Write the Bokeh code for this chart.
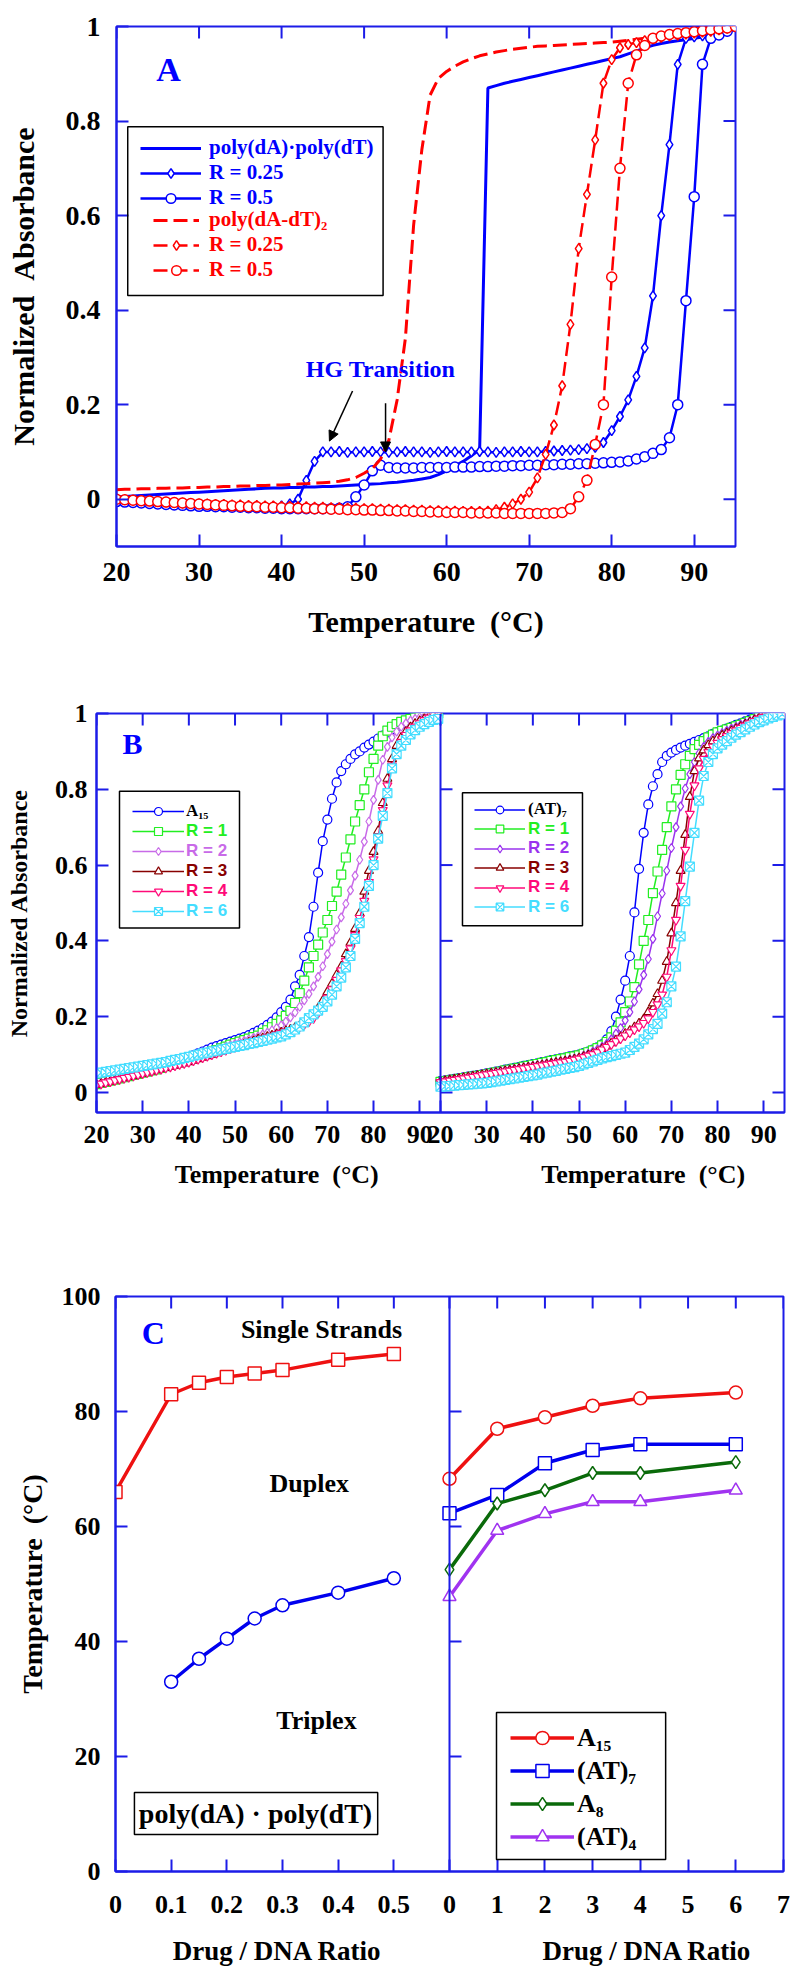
import math
from bokeh.plotting import figure
from bokeh.models import (Range1d, FixedTicker, CustomJSTickFormatter, Legend,
                          LegendItem, BoxAnnotation, Label, Arrow, NormalHead, Span)
from bokeh.layouts import column
from bokeh.embed import file_html
from bokeh.resources import INLINE

# ============================ DATA ============================
# ---- Panel A : temperature (C) and normalized absorbance ----
A_T = [20, 21, 22, 23, 24, 25, 26, 27, 28, 29, 30, 31, 32, 33, 34, 35, 36, 37, 38, 39,
       40, 41, 42, 43, 44, 45, 46, 47, 48, 49, 50, 51, 52, 53, 54, 55, 56, 57, 58, 59,
       60, 61, 62, 63, 64, 65, 66, 67, 68, 69, 70, 71, 72, 73, 74, 75, 76, 77, 78, 79,
       80, 81, 82, 83, 84, 85, 86, 87, 88, 89, 90, 91, 92, 93, 94, 95]
A_POLY_DA_DT = [0.005, 0.006, 0.007, 0.008, 0.009, 0.010, 0.011, 0.012, 0.013, 0.014,
                0.015, 0.016, 0.017, 0.018, 0.019, 0.020, 0.021, 0.022, 0.023, 0.024,
                0.024, 0.025, 0.025, 0.026, 0.026, 0.027, 0.027, 0.028, 0.029, 0.030,
                0.031, 0.032, 0.033, 0.035, 0.036, 0.038, 0.040, 0.043, 0.046, 0.052,
                0.060, 0.070, 0.080, 0.092, 0.105, 0.870, 0.875, 0.880, 0.884, 0.888,
                0.892, 0.896, 0.900, 0.904, 0.908, 0.912, 0.916, 0.920, 0.924, 0.928,
                0.932, 0.936, 0.942, 0.948, 0.955, 0.960, 0.964, 0.967, 0.970, 0.972,
                0.975, 0.978, 0.981, 0.985, 0.990, 1.000]
A_POLY_DA_DT_R025 = [0.000, -0.002, -0.004, -0.005, -0.006, -0.007, -0.008, -0.009, -0.010, -0.011,
                     -0.012, -0.012, -0.013, -0.013, -0.014, -0.014, -0.015, -0.015, -0.015, -0.015,
                     -0.014, -0.010, 0.000, 0.040, 0.080, 0.100, 0.100, 0.101, 0.099, 0.100,
                     0.100, 0.101, 0.100, 0.099, 0.100, 0.101, 0.100, 0.100, 0.099, 0.100,
                     0.101, 0.100, 0.100, 0.100, 0.101, 0.100, 0.099, 0.100, 0.100, 0.101,
                     0.100, 0.100, 0.101, 0.102, 0.103, 0.104, 0.105, 0.107, 0.110, 0.120,
                     0.145, 0.175, 0.210, 0.260, 0.320, 0.430, 0.600, 0.750, 0.920, 0.975,
                     0.978, 0.980, 0.982, 0.985, 0.990, 1.000]
A_POLY_DA_DT_R05 = [-0.005, -0.006, -0.007, -0.008, -0.009, -0.010, -0.011, -0.012, -0.013, -0.014,
                    -0.015, -0.015, -0.016, -0.016, -0.017, -0.017, -0.018, -0.018, -0.019, -0.019,
                    -0.020, -0.020, -0.020, -0.020, -0.020, -0.020, -0.020, -0.019, -0.016, 0.005,
                    0.030, 0.060, 0.072, 0.067, 0.066, 0.066, 0.066, 0.067, 0.067, 0.067,
                    0.067, 0.068, 0.068, 0.068, 0.069, 0.069, 0.070, 0.070, 0.071, 0.071,
                    0.072, 0.072, 0.073, 0.073, 0.074, 0.074, 0.075, 0.075, 0.076, 0.077,
                    0.078, 0.079, 0.081, 0.085, 0.090, 0.097, 0.105, 0.130, 0.200, 0.420,
                    0.640, 0.920, 0.975, 0.982, 0.990, 1.000]
A_POLY_DADT2 = [0.020, 0.021, 0.021, 0.022, 0.022, 0.023, 0.023, 0.024, 0.024, 0.025,
                0.025, 0.026, 0.026, 0.027, 0.027, 0.028, 0.028, 0.029, 0.029, 0.030,
                0.030, 0.031, 0.032, 0.033, 0.034, 0.035, 0.036, 0.038, 0.041, 0.046,
                0.055, 0.065, 0.085, 0.125, 0.210, 0.340, 0.580, 0.740, 0.855, 0.890,
                0.905, 0.916, 0.925, 0.932, 0.938, 0.942, 0.946, 0.949, 0.952, 0.954,
                0.956, 0.958, 0.959, 0.960, 0.961, 0.962, 0.963, 0.964, 0.965, 0.966,
                0.967, 0.969, 0.971, 0.973, 0.975, 0.977, 0.979, 0.981, 0.983, 0.985,
                0.987, 0.989, 0.991, 0.994, 0.997, 1.000]
A_POLY_DADT2_R025 = [0.000, -0.001, -0.002, -0.003, -0.004, -0.005, -0.006, -0.007, -0.008, -0.009,
                     -0.010, -0.010, -0.011, -0.011, -0.012, -0.012, -0.013, -0.013, -0.014, -0.014,
                     -0.015, -0.015, -0.016, -0.016, -0.017, -0.017, -0.018, -0.018, -0.019, -0.019,
                     -0.020, -0.020, -0.021, -0.021, -0.022, -0.022, -0.023, -0.023, -0.024, -0.024,
                     -0.025, -0.025, -0.026, -0.026, -0.026, -0.025, -0.022, -0.017, -0.010, 0.000,
                     0.015, 0.045, 0.095, 0.157, 0.240, 0.370, 0.530, 0.645, 0.760, 0.880,
                     0.930, 0.955, 0.962, 0.966, 0.970, 0.974, 0.977, 0.980, 0.982, 0.984,
                     0.986, 0.988, 0.990, 0.993, 0.996, 1.000]
A_POLY_DADT2_R05 = [0.000, -0.001, -0.002, -0.003, -0.004, -0.005, -0.006, -0.007, -0.008, -0.009,
                    -0.010, -0.011, -0.012, -0.013, -0.014, -0.015, -0.016, -0.016, -0.017, -0.017,
                    -0.018, -0.018, -0.019, -0.019, -0.020, -0.020, -0.021, -0.021, -0.022, -0.022,
                    -0.023, -0.023, -0.024, -0.024, -0.025, -0.025, -0.026, -0.026, -0.027, -0.027,
                    -0.028, -0.028, -0.028, -0.029, -0.029, -0.029, -0.029, -0.030, -0.030, -0.030,
                    -0.030, -0.030, -0.030, -0.029, -0.028, -0.020, 0.005, 0.040, 0.116, 0.200,
                    0.470, 0.700, 0.880, 0.940, 0.960, 0.975, 0.980, 0.983, 0.985, 0.987,
                    0.989, 0.991, 0.993, 0.995, 0.997, 1.000]
A_LABELS = ["poly(dA)\u00b7poly(dT)", "R = 0.25", "R = 0.5",
            "poly(dA-dT)\u2082", "R = 0.25", "R = 0.5"]
A_X_TICKS = [20, 30, 40, 50, 60, 70, 80, 90]
A_Y_TICKS = [0, 0.2, 0.4, 0.6, 0.8, 1]

# ---- Panel B : temperature (C) and normalized absorbance ----
B_T = [20, 21, 22, 23, 24, 25, 26, 27, 28, 29, 30, 31, 32, 33, 34, 35, 36, 37, 38, 39,
       40, 41, 42, 43, 44, 45, 46, 47, 48, 49, 50, 51, 52, 53, 54, 55, 56, 57, 58, 59,
       60, 61, 62, 63, 64, 65, 66, 67, 68, 69, 70, 71, 72, 73, 74, 75, 76, 77, 78, 79,
       80, 81, 82, 83, 84, 85, 86, 87, 88, 89, 90, 91, 92, 93, 94]
B_L_A15 = [.025, .028, .031, .034, .037, .040, .043, .046, .049, .052,
           .055, .058, .061, .064, .068, .072, .076, .080, .084, .088,
           .093, .098, .103, .108, .113, .118, .122, .126, .130, .134,
           .138, .142, .146, .151, .157, .163, .170, .178, .187, .198,
           .212, .226, .245, .280, .310, .360, .410, .490, .580, .663,
           .720, .775, .818, .848, .866, .880, .892, .900, .910, .918,
           .926, .934, .942, .950, .958, .965, .972, .978, .984, .990,
           .995, .998, 1.0, 1.0, 1.0]
B_L_R1 = [.022, .025, .028, .031, .034, .037, .040, .043, .046, .049,
          .052, .055, .058, .061, .065, .069, .073, .077, .080, .084,
          .088, .092, .096, .100, .104, .108, .112, .116, .121, .126,
          .130, .134, .138, .142, .146, .150, .157, .164, .172, .181,
          .190, .202, .215, .236, .262, .295, .330, .360, .390, .422,
          .455, .492, .530, .575, .620, .668, .715, .758, .800, .845,
          .880, .915, .940, .955, .965, .972, .978, .982, .986, .989,
          .992, .994, .997, .999, 1.0]
B_L_R2 = [.022, .025, .028, .031, .034, .037, .040, .043, .046, .049,
          .052, .055, .058, .061, .065, .069, .073, .077, .080, .084,
          .088, .092, .096, .100, .104, .108, .112, .116, .120, .124,
          .128, .132, .136, .140, .144, .148, .153, .158, .164, .170,
          .177, .187, .198, .211, .226, .243, .260, .280, .305, .333,
          .365, .398, .430, .462, .498, .533, .572, .614, .662, .715,
          .772, .825, .878, .912, .937, .952, .965, .974, .981, .986,
          .990, .993, .996, .998, 1.0]
B_L_R3 = [.020, .023, .026, .029, .032, .035, .038, .041, .044, .047,
          .050, .053, .056, .059, .062, .065, .068, .071, .074, .077,
          .080, .084, .088, .092, .096, .100, .104, .108, .112, .116,
          .120, .124, .128, .132, .136, .140, .143, .147, .150, .154,
          .158, .162, .166, .171, .176, .182, .192, .205, .222, .242,
          .265, .287, .310, .332, .365, .395, .432, .473, .530, .585,
          .635, .690, .764, .828, .880, .915, .937, .952, .964, .973,
          .980, .986, .991, .996, 1.0]
B_L_R4 = [.020, .023, .026, .029, .032, .035, .038, .041, .044, .047,
          .050, .053, .056, .059, .062, .065, .068, .071, .074, .077,
          .080, .084, .088, .092, .096, .100, .104, .108, .112, .116,
          .120, .124, .128, .132, .135, .138, .141, .145, .148, .152,
          .156, .160, .164, .169, .174, .180, .187, .196, .210, .228,
          .250, .272, .297, .322, .346, .380, .415, .460, .505, .555,
          .615, .675, .745, .810, .862, .898, .925, .943, .955, .965,
          .974, .982, .989, .996, 1.0]
B_L_R6 = [.050, .052, .054, .056, .058, .060, .062, .064, .066, .068,
          .070, .072, .074, .076, .078, .080, .083, .086, .088, .091,
          .094, .097, .100, .103, .105, .108, .110, .113, .115, .118,
          .120, .123, .125, .128, .130, .133, .136, .139, .142, .145,
          .148, .153, .159, .166, .174, .185, .196, .206, .216, .226,
          .240, .258, .280, .303, .330, .360, .405, .447, .490, .545,
          .600, .670, .730, .790, .855, .893, .915, .930, .945, .956,
          .965, .972, .978, .983, .986]
B_R_AT7 = [.030, .032, .034, .036, .038, .040, .042, .044, .046, .048,
           .050, .052, .055, .057, .060, .062, .065, .067, .070, .072,
           .075, .077, .080, .082, .085, .087, .090, .092, .095, .097,
           .100, .104, .108, .113, .119, .127, .140, .162, .200, .245,
           .295, .360, .475, .590, .685, .760, .808, .840, .872, .888,
           .897, .904, .910, .915, .920, .925, .930, .935, .940, .946,
           .951, .955, .960, .965, .970, .974, .979, .984, .990, .995,
           .998, 1.0, 1.0, 1.0, 1.0]
B_R_R1 = [.028, .030, .032, .034, .036, .038, .040, .042, .044, .046,
          .048, .050, .053, .055, .058, .060, .063, .065, .068, .070,
          .073, .075, .078, .080, .083, .085, .088, .090, .093, .095,
          .098, .102, .106, .111, .117, .124, .133, .145, .163, .185,
          .212, .240, .278, .338, .400, .455, .526, .583, .640, .700,
          .755, .800, .838, .866, .888, .906, .917, .927, .937, .944,
          .950, .954, .958, .962, .966, .970, .975, .980, .985, .990,
          .994, .997, 1.0, 1.0, 1.0]
B_R_R2 = [.030, .032, .034, .036, .038, .040, .042, .044, .046, .048,
          .050, .052, .054, .056, .058, .060, .062, .064, .066, .068,
          .070, .072, .074, .076, .078, .080, .082, .084, .087, .090,
          .092, .097, .102, .108, .114, .120, .128, .140, .155, .170,
          .190, .212, .240, .272, .310, .352, .405, .465, .525, .585,
          .645, .700, .755, .802, .840, .872, .895, .912, .925, .935,
          .942, .948, .954, .960, .965, .970, .975, .980, .985, .990,
          .994, .997, 1.0, 1.0, 1.0]
B_R_R3 = [.028, .030, .032, .034, .036, .038, .040, .042, .044, .046,
          .048, .050, .052, .054, .056, .058, .060, .062, .064, .066,
          .068, .070, .072, .074, .076, .078, .080, .082, .084, .087,
          .090, .094, .098, .102, .107, .115, .122, .130, .138, .146,
          .155, .163, .172, .182, .193, .212, .235, .260, .295, .345,
          .420, .500, .585, .680, .780, .848, .882, .903, .917, .927,
          .935, .942, .948, .954, .960, .965, .971, .977, .983, .988,
          .993, .996, .999, 1.0, 1.0]
B_R_R4 = [.027, .029, .031, .033, .035, .037, .039, .041, .043, .045,
          .047, .049, .051, .053, .055, .057, .059, .061, .063, .065,
          .067, .069, .071, .073, .075, .077, .079, .081, .083, .086,
          .089, .093, .097, .101, .106, .113, .120, .127, .135, .142,
          .150, .158, .166, .174, .183, .195, .212, .232, .258, .305,
          .375, .455, .545, .640, .735, .810, .855, .880, .898, .912,
          .922, .932, .940, .948, .955, .962, .968, .974, .980, .986,
          .991, .995, .998, 1.0, 1.0]
B_R_R6 = [.015, .016, .017, .018, .019, .020, .021, .022, .023, .024,
          .025, .027, .029, .031, .033, .035, .037, .039, .041, .043,
          .045, .047, .050, .052, .055, .057, .060, .062, .065, .067,
          .070, .074, .078, .082, .086, .090, .093, .096, .099, .102,
          .105, .112, .120, .129, .140, .153, .167, .181, .208, .238,
          .280, .332, .412, .505, .596, .685, .770, .835, .872, .893,
          .908, .918, .927, .936, .944, .951, .958, .965, .971, .977,
          .982, .987, .991, .995, .998]
B_L_LABELS = ["A\u2081\u2085", "R = 1", "R = 2", "R = 3", "R = 4", "R = 6"]
B_R_LABELS = ["(AT)\u2087", "R = 1", "R = 2", "R = 3", "R = 4", "R = 6"]
B_X_TICKS = [20, 30, 40, 50, 60, 70, 80, 90]
B_Y_TICKS = [0, 0.2, 0.4, 0.6, 0.8, 1]

# ---- Panel C : melting temperatures vs drug / DNA ratio ----
C_SS_RATIO = [0, 0.1, 0.15, 0.2, 0.25, 0.3, 0.4, 0.5]
C_SS_TM = [66.0, 83.0, 85.0, 86.0, 86.6, 87.2, 89.0, 90.0]
C_TRIPLEX_RATIO = [0.1, 0.15, 0.2, 0.25, 0.3, 0.4, 0.5]
C_TRIPLEX_TM = [33.0, 37.0, 40.5, 44.0, 46.3, 48.5, 51.0]
C_RATIO = [0, 1, 2, 3, 4, 6]
C_A15_TM = [68.3, 77.0, 79.0, 81.0, 82.3, 83.3]
C_AT7_TM = [62.3, 65.5, 71.0, 73.3, 74.3, 74.3]
C_A8_TM = [52.5, 64.0, 66.3, 69.3, 69.3, 71.2]
C_AT4_TM = [47.8, 59.3, 62.2, 64.3, 64.3, 66.3]
C_LABELS = ["A\u2081\u2085", "(AT)\u2087", "A\u2088", "(AT)\u2084"]
C_LEFT_X_TICKS = [0, 0.1, 0.2, 0.3, 0.4, 0.5]
C_RIGHT_X_TICKS = [0, 1, 2, 3, 4, 5, 6, 7]
C_Y_TICKS = [0, 20, 40, 60, 80, 100]

# ============================ STYLE ============================
SERIF = "Liberation Serif"
SANS = "Liberation Sans"
NB = "\u00a0"
FRAME = "#1c1ce8"
BLUE = "#0000ff"
RED = "#ff0000"
B_GREEN = "#22ee22"
B_PURPLE_L = "#c86ae8"
B_PURPLE_R = "#9a33ee"
B_BROWN = "#880000"
B_PINK = "#ff0a78"
B_CYAN = "#44ddff"
C_RED = "#ee1111"
C_BLUE = "#0000ee"
C_GREEN = "#0a6a0a"
C_PURPLE = "#a033f0"
TICK = 12


def make_fig(w, h, xr, yr, bl, br, bt, bb):
    p = figure(width=w, height=h, x_range=xr, y_range=yr, output_backend="svg",
               toolbar_location=None, min_border_left=bl, min_border_right=br,
               min_border_top=bt, min_border_bottom=bb, frame_align=False)
    p.grid.visible = False
    p.outline_line_color = FRAME
    p.outline_line_width = 2
    return p


def style_axis(ax, size):
    ax.axis_line_color = FRAME
    ax.axis_line_width = 2
    ax.major_tick_line_color = FRAME
    ax.major_tick_line_width = 2
    ax.major_tick_in = TICK
    ax.major_tick_out = 0
    ax.minor_tick_line_color = None
    ax.major_label_text_font = SERIF
    ax.major_label_text_font_style = "bold"
    ax.major_label_text_font_size = size
    ax.major_label_text_color = "black"
    ax.axis_label_text_font = SERIF
    ax.axis_label_text_font_style = "bold"
    ax.axis_label_text_color = "black"


def tick_marks(p, xs, ys, angle):
    # inward tick marks of fixed screen length on the top / right / divider edges
    p.ray(x=xs, y=ys, length=TICK, length_units="screen", angle=angle,
          line_color=FRAME, line_width=2)


def add_legend(p, items, loc, font, size, color, glyph_w, standoff, row_h):
    lg = Legend(items=[LegendItem(label=lab, renderers=r) for lab, r in items],
                location=loc, orientation="vertical",
                label_text_font=font, label_text_font_size=size,
                label_text_font_style="bold", label_text_color=color,
                glyph_width=glyph_w, glyph_height=row_h, label_height=row_h,
                label_standoff=standoff, spacing=0, padding=0, margin=0,
                border_line_color=None, background_fill_alpha=0)
    p.add_layout(lg)


def frame_box(p, l, r, t, b, x_range_name="default"):
    p.add_layout(BoxAnnotation(left=l, right=r, top=t, bottom=b, fill_alpha=0,
                               line_color="black", line_alpha=1, line_width=1.5,
                               x_range_name=x_range_name))


def text(p, x, y, s, size, color="black", font=SERIF, x_range_name="default"):
    p.add_layout(Label(x=x, y=y, text=s, text_font=font, text_font_style="bold",
                       text_font_size=size, text_color=color, text_align="center",
                       text_baseline="middle", x_range_name=x_range_name))


ONE_DEC = "return String(Math.round(tick*10)/10);"

# ============================ PANEL A ============================
A_X0, A_X1, A_Y0, A_Y1 = 20, 95, -0.1, 1.0
pA = make_fig(800, 660, Range1d(A_X0, A_X1), Range1d(A_Y0, A_Y1), 116, 65, 26, 114)
ax = pA.xaxis[0]
ax.ticker = FixedTicker(ticks=A_X_TICKS)
ax.formatter = CustomJSTickFormatter(code="return tick.toFixed(0);")
style_axis(ax, "28px")
ax.major_label_standoff = 16
ax.axis_label = "Temperature" + NB + NB + "(\u00b0C)"
ax.axis_label_text_font_size = "30px"
ax.axis_label_standoff = 21
ay = pA.yaxis[0]
ay.ticker = FixedTicker(ticks=A_Y_TICKS)
ay.formatter = CustomJSTickFormatter(code=ONE_DEC)
style_axis(ay, "28px")
ay.major_label_standoff = 16
ay.axis_label = "Normalized" + NB + NB + "Absorbance"
ay.axis_label_text_font_size = "30px"
ay.axis_label_standoff = 23
tick_marks(pA, A_X_TICKS, [A_Y1] * len(A_X_TICKS), -math.pi / 2)
tick_marks(pA, [A_X1] * len(A_Y_TICKS), A_Y_TICKS, math.pi)

mk = dict(size=10, fill_color="white", line_width=1.5)
rA1 = pA.line(A_T, A_POLY_DA_DT, line_color=BLUE, line_width=3)
rA2l = pA.line(A_T, A_POLY_DA_DT_R025, line_color=BLUE, line_width=2.5)
rA2m = pA.scatter(A_T, A_POLY_DA_DT_R025, marker="diamond", line_color=BLUE, **mk)
rA3l = pA.line(A_T, A_POLY_DA_DT_R05, line_color=BLUE, line_width=2.5)
rA3m = pA.scatter(A_T, A_POLY_DA_DT_R05, marker="circle", line_color=BLUE, **mk)
rA4 = pA.line(A_T, A_POLY_DADT2, line_color=RED, line_width=3, line_dash="14 6")
rA5l = pA.line(A_T, A_POLY_DADT2_R025, line_color=RED, line_width=2.5, line_dash="14 6")
rA5m = pA.scatter(A_T, A_POLY_DADT2_R025, marker="diamond", line_color=RED, **mk)
rA6l = pA.line(A_T, A_POLY_DADT2_R05, line_color=RED, line_width=2.5, line_dash="14 6")
rA6m = pA.scatter(A_T, A_POLY_DADT2_R05, marker="circle", line_color=RED, **mk)

frame_box(pA, 21.36, 52.3, 0.788, 0.431)
add_legend(pA, [(A_LABELS[0], [rA1]), (A_LABELS[1], [rA2l, rA2m]), (A_LABELS[2], [rA3l, rA3m])],
           (24, 336), SERIF, "21px", BLUE, 61, 8, 24)
add_legend(pA, [(A_LABELS[3], [rA4]), (A_LABELS[4], [rA5l, rA5m]), (A_LABELS[5], [rA6l, rA6m])],
           (37, 264), SERIF, "21px", RED, 46, 10, 24)

text(pA, 26.3, 0.909, "A", "34px", BLUE)
text(pA, 52.0, 0.275, "HG Transition", "24px", BLUE)
for xs, ys, xe, ye in [(48.6, 0.229, 45.8, 0.123), (52.6, 0.203, 52.6, 0.100)]:
    pA.add_layout(Arrow(end=NormalHead(size=10, fill_color="black", line_color="black"),
                        x_start=xs, y_start=ys, x_end=xe, y_end=ye,
                        line_color="black", line_width=1.5))

# ============================ PANEL B ============================
B_START, B_END = 20, 94.5
B_OFF = B_END - B_START
B_Y0, B_Y1 = -0.053, 1.0
pB = make_fig(800, 570, Range1d(B_START, B_END + B_OFF), Range1d(B_Y0, B_Y1), 96, 16, 53, 118)
pB.extra_x_ranges = {"right": Range1d(B_START - B_OFF, B_END)}
b_xpos = B_X_TICKS + [t + B_OFF for t in B_X_TICKS]
ax = pB.xaxis[0]
ax.ticker = FixedTicker(ticks=b_xpos)
ax.formatter = CustomJSTickFormatter(args=dict(split=B_END, off=B_OFF),
                                     code="return (tick >= split - 0.01 ? tick - off : tick).toFixed(0);")
style_axis(ax, "26px")
ax.major_label_standoff = 13
B_TITLE = "Temperature" + NB + NB + "(\u00b0C)"
ax.axis_label = NB * 6 + B_TITLE + NB * 25 + B_TITLE
ax.axis_label_text_font_size = "26px"
ax.axis_label_standoff = 14
ay = pB.yaxis[0]
ay.ticker = FixedTicker(ticks=B_Y_TICKS)
ay.formatter = CustomJSTickFormatter(code=ONE_DEC)
style_axis(ay, "26px")
ay.major_label_standoff = 9
ay.axis_label = "Normalized Absorbance"
ay.axis_label_text_font_size = "24px"
ay.axis_label_standoff = 20
tick_marks(pB, b_xpos, [B_Y1] * len(b_xpos), -math.pi / 2)
tick_marks(pB, [B_END + B_OFF] * len(B_Y_TICKS), B_Y_TICKS, math.pi)
tick_marks(pB, [B_END] * 5, B_Y_TICKS[:5], 0)
pB.add_layout(Span(location=B_END, dimension="height", line_color=FRAME, line_width=2))

bm = dict(size=9, fill_color="white", line_width=1.2)
left_series = [(B_L_A15, BLUE, "circle"), (B_L_R1, B_GREEN, "square"),
               (B_L_R2, B_PURPLE_L, "diamond"), (B_L_R3, B_BROWN, "triangle"),
               (B_L_R4, B_PINK, "inverted_triangle"), (B_L_R6, B_CYAN, "square_x")]
right_series = [(B_R_AT7, BLUE, "circle"), (B_R_R1, B_GREEN, "square"),
                (B_R_R2, B_PURPLE_R, "diamond"), (B_R_R3, B_BROWN, "triangle"),
                (B_R_R4, B_PINK, "inverted_triangle"), (B_R_R6, B_CYAN, "square_x")]
left_r, right_r = [], []
for ys, c, m in left_series:
    l = pB.line(B_T, ys, line_color=c, line_width=1.5)
    s = pB.scatter(B_T, ys, marker=m, line_color=c, **bm)
    left_r.append([l, s])
for ys, c, m in right_series:
    l = pB.line(B_T, ys, line_color=c, line_width=1.5, x_range_name="right")
    s = pB.scatter(B_T, ys, marker=m, line_color=c, x_range_name="right", **bm)
    right_r.append([l, s])

frame_box(pB, 24.98, 50.97, 0.795, 0.434)
frame_box(pB, 24.76, 50.75, 0.791, 0.440, x_range_name="right")
for k in range(6):
    font = SERIF if k == 0 else SANS
    colL = "black" if k == 0 else left_series[k][1]
    colR = "black" if k == 0 else right_series[k][1]
    add_legend(pB, [(B_L_LABELS[k], left_r[k])], (36, 291 - 20 * k), font, "17px", colL, 52, 2, 20)
    add_legend(pB, [(B_R_LABELS[k], right_r[k])], (378, 293 - 19.5 * k), font, "17px", colR, 51, 3, 19)

text(pB, 27.8, 0.92, "B", "30px", BLUE)

# ============================ PANEL C ============================
C_SPLIT = 0.6
C_R_MAX = 7
C_Y0, C_Y1 = 0, 100
pC = make_fig(800, 748, Range1d(0, 2 * C_SPLIT), Range1d(C_Y0, C_Y1), 115, 17, 66, 107)
pC.extra_x_ranges = {"right": Range1d(-C_R_MAX, C_R_MAX)}
c_step = C_SPLIT / C_R_MAX
c_xpos = C_LEFT_X_TICKS + [C_SPLIT + v * c_step for v in C_RIGHT_X_TICKS]
ax = pC.xaxis[0]
ax.ticker = FixedTicker(ticks=c_xpos)
ax.formatter = CustomJSTickFormatter(args=dict(split=C_SPLIT, step=c_step), code="""
if (tick < split - 1e-6) { return String(Math.round(tick*10)/10); }
return String(Math.round((tick - split)/step));""")
style_axis(ax, "26px")
ax.major_label_standoff = 24
C_TITLE = "Drug / DNA Ratio"
ax.axis_label = NB * 4 + C_TITLE + NB * 24 + C_TITLE
ax.axis_label_text_font_size = "27px"
ax.axis_label_standoff = 20
ay = pC.yaxis[0]
ay.ticker = FixedTicker(ticks=C_Y_TICKS)
ay.formatter = CustomJSTickFormatter(code="return tick.toFixed(0);")
style_axis(ay, "26px")
ay.major_label_standoff = 15
ay.axis_label = "Temperature" + NB + NB + "(\u00b0C)"
ay.axis_label_text_font_size = "28px"
ay.axis_label_standoff = 11
tick_marks(pC, c_xpos, [C_Y1] * len(c_xpos), -math.pi / 2)
tick_marks(pC, [C_SPLIT] * 4, C_Y_TICKS[1:5], 0)
pC.add_layout(Span(location=C_SPLIT, dimension="height", line_color=FRAME, line_width=2))

cm = dict(size=13, fill_color="white", line_width=1.5)
pC.line(C_SS_RATIO, C_SS_TM, line_color=C_RED, line_width=3.5)
pC.scatter(C_SS_RATIO, C_SS_TM, marker="square", line_color=C_RED, **cm)
pC.line(C_TRIPLEX_RATIO, C_TRIPLEX_TM, line_color=C_BLUE, line_width=3.5)
pC.scatter(C_TRIPLEX_RATIO, C_TRIPLEX_TM, marker="circle", line_color=C_BLUE, **cm)
c_items = []
for ys, c, m, lab in [(C_A15_TM, C_RED, "circle", C_LABELS[0]), (C_AT7_TM, C_BLUE, "square", C_LABELS[1]),
                      (C_A8_TM, C_GREEN, "diamond", C_LABELS[2]), (C_AT4_TM, C_PURPLE, "triangle", C_LABELS[3])]:
    l = pC.line(C_RATIO, ys, line_color=c, line_width=3.5, x_range_name="right")
    s = pC.scatter(C_RATIO, ys, marker=m, line_color=c, x_range_name="right", **cm)
    c_items.append((lab, [l, s]))

frame_box(pC, 0.985, 4.53, 27.65, 2.09, x_range_name="right")
add_legend(pC, c_items, (395, 18), SERIF, "26px", "black", 64, 3, 33)

frame_box(pC, 0.034, 0.471, 13.74, 6.43)
text(pC, 0.2515, 10.1, "poly(dA) \u00b7 poly(dT)", "28px")
text(pC, 0.068, 93.7, "C", "32px", BLUE)
text(pC, 0.370, 94.2, "Single Strands", "26px")
text(pC, 0.348, 67.5, "Duplex", "26px")
text(pC, 0.361, 26.3, "Triplex", "26px")

layout = column(pA, pB, pC)
with open("out.html", "w", encoding="utf-8") as f:
    f.write(file_html(layout, INLINE))
